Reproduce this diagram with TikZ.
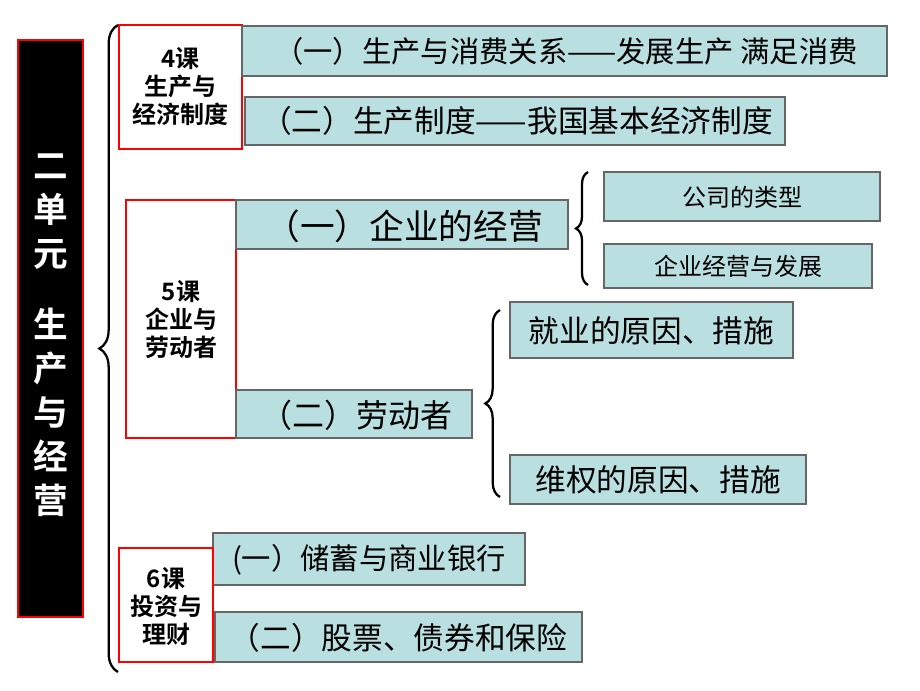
\documentclass[tikz,border=0pt]{standalone}
\usepackage{fontspec}
\setmainfont{Liberation Sans}
\newfontfamily\cjk{Noto Sans CJK SC}[BoldFont={* Bold}]
\usetikzlibrary{decorations.pathreplacing}
\begin{document}
\begin{tikzpicture}[x=0.75pt,y=-0.75pt,
  tb/.style={draw=gray!80!black,fill={rgb,255:red,185;green,223;blue,224},line width=0.8pt,inner sep=0pt},
  rb/.style={draw=red,fill=white,line width=2.2pt,inner sep=0pt},
  br/.style={decorate,decoration={brace,amplitude=#1},line width=1.7pt},
  t/.style={font=\cjk\fontsize{#1}{#1}\selectfont},
  rt/.style={font=\cjk\bfseries\fontsize{18}{21}\selectfont,align=center}]
\useasboundingbox (0,0) rectangle (920,690);
% left black box
\draw[draw=red,fill=black,line width=2pt] (18,40) rectangle (83,617);
\node[font=\cjk\bfseries\fontsize{26}{33}\selectfont,text=white,align=center] (unit) at (50.5,335) {二\\单\\元\\[20pt]生\\产\\与\\经\\营};
% main brace
\draw[br=14pt] (118,672) -- (118,25);
% lesson 4
\draw[rb] (119,25) rectangle (242,149);
\node[rt] (l4) at (180.5,87) {4课\\生产与\\经济制度};
\draw[tb] (242,26) rectangle (887,76);
\node[t=22] (a1) at (566,51) {（一）生产与消费关系——发展生产 满足消费};
\draw[tb] (245,97) rectangle (785,145);
\node[t=23] (a2) at (517,121) {（二）生产制度——我国基本经济制度};
% lesson 5
\draw[rb] (126,200) rectangle (236,438);
\node[rt] (l5) at (181,320) {5课\\企业与\\劳动者};
\draw[tb] (236,200) rectangle (568,249);
\node[t=26] (b1n) at (404,226) {（一）企业的经营};
\draw[br=9pt] (588,285) -- (588,172);
\draw[tb] (604,172) rectangle (880,221);
\node[t=18] (c1) at (742,197) {公司的类型};
\draw[tb] (604,244) rectangle (872,288);
\node[t=18] (c2) at (738,266) {企业经营与发展};
\draw[tb] (236,390) rectangle (472,438);
\node[t=24] (b2n) at (356,415) {（二）劳动者};
\draw[br=11pt] (500,497) -- (500,310);
\draw[tb] (510,302) rectangle (793,358);
\node[t=23] (d1) at (651.5,331) {就业的原因、措施};
\draw[tb] (510,455) rectangle (806,504);
\node[t=23] (d2) at (658,480) {维权的原因、措施};
% lesson 6
\draw[tb] (213,533) rectangle (525,585);
\node[t=22] (e1) at (369,560) {(一）储蓄与商业银行};
\draw[tb] (215,612) rectangle (582,662);
\node[t=23] (e2) at (398.5,638) {（二）股票、债券和保险};
\draw[rb] (119,548) rectangle (213,662);
\node[rt] (l6) at (166,606) {6课\\投资与\\理财};
\end{tikzpicture}
\end{document}
